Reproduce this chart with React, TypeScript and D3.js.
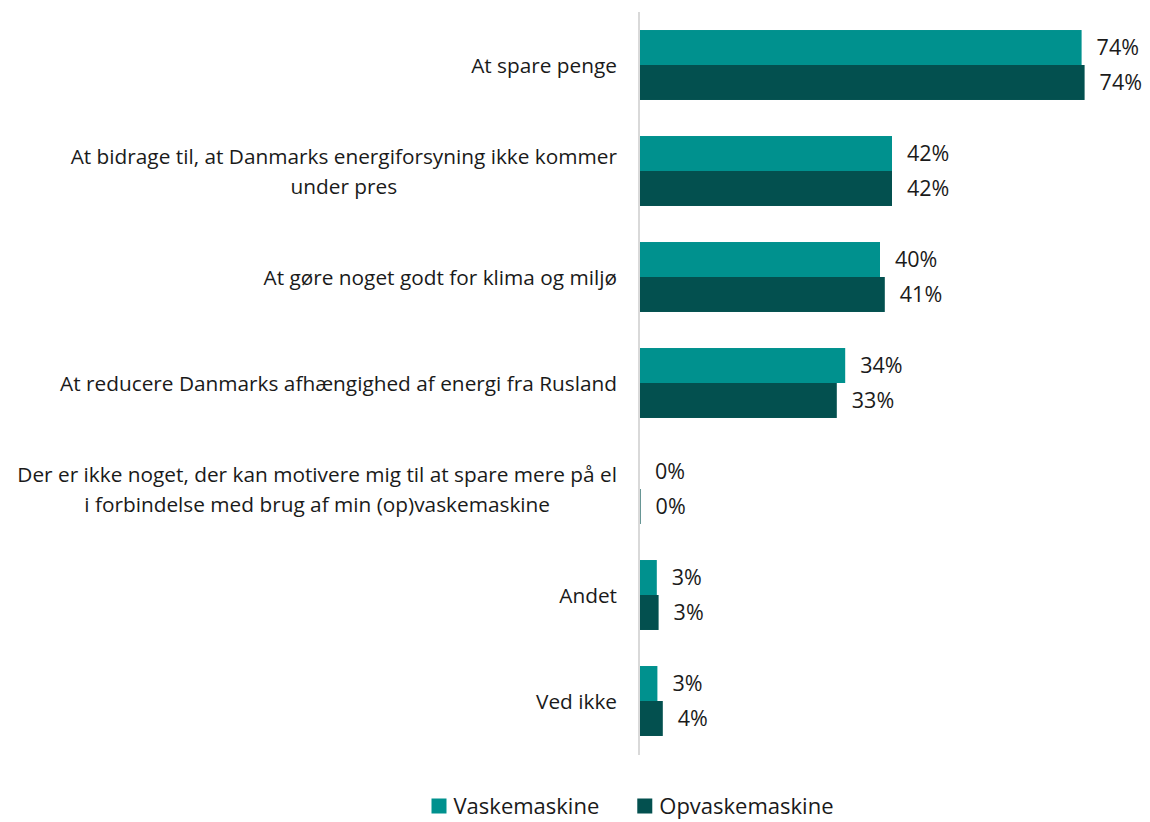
import React, { useEffect, useRef } from 'react';
import * as d3 from 'd3';

const categories: string[][] = [
  ['At spare penge'],
  ['At bidrage til, at Danmarks energiforsyning ikke kommer', 'under pres'],
  ['At gøre noget godt for klima og miljø'],
  ['At reducere Danmarks afhængighed af energi fra Rusland'],
  ['Der er ikke noget, der kan motivere mig til at spare mere på el', 'i forbindelse med brug af min (op)vaskemaskine'],
  ['Andet'],
  ['Ved ikke'],
];
const seriesNames = ['Vaskemaskine', 'Opvaskemaskine'];
const vaskValues = [73.6, 42.0, 40.0, 34.2, 0.0, 2.8, 2.9];
const opvaskValues = [74.1, 42.0, 40.8, 32.8, 0.1, 3.1, 3.8];
const seriesColors = ['#00918E', '#03504F'];

const W = 1150;
const H = 822;
const FONT = '"Open Sans", "Noto Sans", sans-serif';

const App = () => {
  const ref = useRef<SVGSVGElement>(null);

  useEffect(() => {
    const svg = d3.select(ref.current);
    svg.selectAll('*').remove();

    const y = d3.scaleBand<number>()
      .domain(d3.range(categories.length))
      .range([12, 754])
      .paddingInner(0.34)
      .paddingOuter(0.17);
    const ySub = d3.scaleBand<string>()
      .domain(seriesNames)
      .range([0, y.bandwidth()]);
    const x = d3.scaleLinear().domain([0, 80]).range([640, 1120]);

    const rows = categories.map((c, i) => ({ label: c, values: [vaskValues[i], opvaskValues[i]] }));

    // bars
    const g = svg.append('g');
    rows.forEach((r, i) => {
      r.values.forEach((v, s) => {
        const y0 = y(i)! + ySub(seriesNames[s])!;
        g.append('rect')
          .attr('x', x(0))
          .attr('y', y0)
          .attr('width', Math.max(0, x(v) - x(0)))
          .attr('height', ySub.bandwidth())
          .attr('fill', seriesColors[s]);
        g.append('text')
          .attr('x', x(v) + 15)
          .attr('y', y0 + ySub.bandwidth() / 2)
          .attr('dy', '0.36em')
          .attr('font-family', FONT)
          .attr('font-size', 21.5)
          .attr('fill', '#1a1a1a')
          .text(`${Math.round(v)}%`);
      });
    });

    // axis line
    svg.append('line')
      .attr('x1', x(0) - 1).attr('x2', x(0) - 1)
      .attr('y1', 12).attr('y2', 755)
      .attr('stroke', '#d9d9d9').attr('stroke-width', 2);

    // category labels (centred lines, block right-aligned)
    const lineH = 30;
    rows.forEach((r, i) => {
      const cy = y(i)! + y.bandwidth() / 2 + 1;
      const t = svg.append('text')
        .attr('font-family', FONT)
        .attr('font-size', 20.8)
        .attr('fill', '#1a1a1a')
        .attr('text-anchor', 'middle');
      const spans = r.label.map((l, k) => t.append('tspan')
        .attr('y', cy + (k - (r.label.length - 1) / 2) * lineH)
        .attr('dy', '0.36em')
        .text(l));
      const maxW = d3.max(spans, s => (s.node() as SVGTSpanElement).getComputedTextLength()) || 0;
      spans.forEach(s => s.attr('x', 617 - maxW / 2));
    });

    // legend
    const leg = svg.append('g');
    const items = seriesNames.map((n, s) => {
      const gi = leg.append('g');
      gi.append('rect').attr('width', 15).attr('height', 15).attr('y', -7.5).attr('fill', seriesColors[s]);
      const tx = gi.append('text')
        .attr('x', 22).attr('dy', '0.36em')
        .attr('font-family', FONT).attr('font-size', 22)
        .attr('fill', '#1a1a1a').text(n);
      return { gi, w: 22 + (tx.node() as SVGTextElement).getComputedTextLength() };
    });
    const gap = 38;
    const total = d3.sum(items, d => d.w) + gap * (items.length - 1);
    let cx = 632.5 - total / 2;
    items.forEach(it => {
      it.gi.attr('transform', `translate(${cx},806)`);
      cx += it.w + gap;
    });
  }, []);

  return (
    <svg ref={ref} width={W} height={H}
      style={{ position: 'absolute', left: 0, top: 0, background: '#fff' }} />
  );
};

export default App;
